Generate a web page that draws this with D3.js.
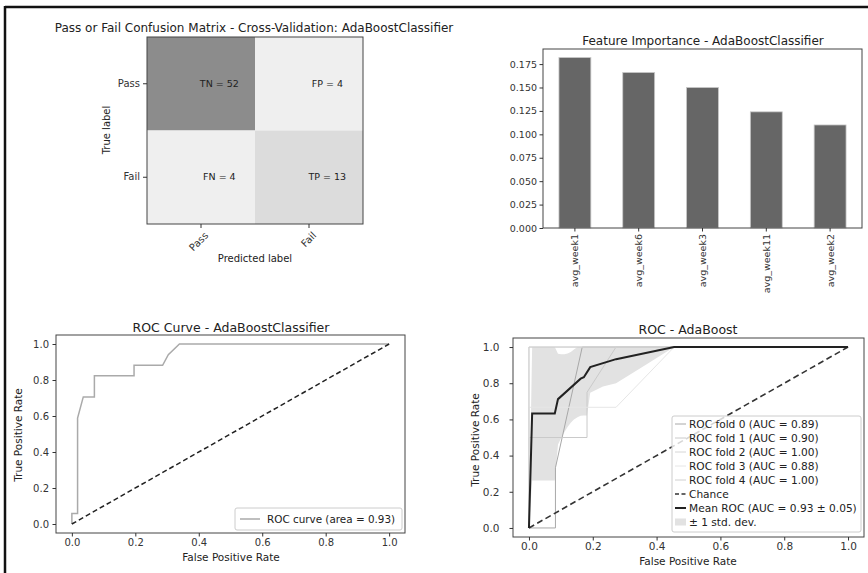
<!DOCTYPE html>
<html lang="en">
  <head>
    <meta charset="utf-8" />
    <script src="https://cdn.jsdelivr.net/npm/d3@7/dist/d3.min.js"></script>
    <title>AdaBoostClassifier</title>
    <style>
      body {
        margin: 0;
        background: #fff;
      }
      svg {
        display: block;
        font-family: "DejaVu Sans", sans-serif;
      }
      .tick text {
        fill: #333;
      }
      .tick line {
        stroke: #333;
      }
    </style>
  </head>
  <body>
    <div id="container"></div>

    <script>
      const width = 868;
      const height = 573;

      // confusion matrix
      const cmLabels = ["Pass", "Fail"];
      const cmNames = ["TN", "FP", "FN", "TP"];
      const cmCounts = [52, 4, 4, 13];

      // feature importance
      const features = ["avg_week1", "avg_week6", "avg_week3", "avg_week11", "avg_week2"];
      const importance = [0.182, 0.166, 0.15, 0.124, 0.11];
      const impTicks = [0, 0.025, 0.05, 0.075, 0.1, 0.125, 0.15, 0.175];

      // single ROC curve
      const rocFpr = [0, 0, 0.018, 0.018, 0.036, 0.071, 0.071, 0.196, 0.196, 0.286, 0.304, 0.339, 1];
      const rocTpr = [0, 0.059, 0.059, 0.588, 0.706, 0.706, 0.824, 0.824, 0.882, 0.882, 0.941, 1, 1];
      const rocAuc = 0.93;

      // cross-validation folds
      const foldAuc = [0.89, 0.9, 1.0, 0.88, 1.0];
      const foldFpr = [
        [0, 0.083, 0.083, 0.167, 1],
        [0, 0, 0.182, 0.182, 0.273, 1],
        [0, 0, 1],
        [0, 0, 0.273, 0.455, 1],
        [0, 0, 1],
      ];
      const foldTpr = [
        [0, 0, 0.333, 1, 1],
        [0, 0.5, 0.5, 0.75, 1, 1],
        [0, 1, 1],
        [0, 0.667, 0.667, 1, 1],
        [0, 1, 1],
      ];
      const meanFpr = [0, 0.01, 0.081, 0.091, 0.162, 0.172, 0.192, 0.273, 0.455, 1];
      const meanTpr = [0, 0.633, 0.633, 0.712, 0.825, 0.833, 0.889, 0.933, 1, 1];
      const meanAuc = 0.93;
      const meanStd = 0.05;
      const bandFpr = [0, 0.01, 0.081, 0.091, 0.101, 0.111, 0.121, 0.131, 0.141, 0.152, 0.162, 0.172, 0.182, 0.192, 0.232, 0.273, 0.364, 0.455, 1];
      const bandUpper = [0, 1, 1, 0.963, 0.96, 0.96, 0.964, 0.973, 0.986, 1, 1, 1, 1, 1, 1, 1, 1, 1, 1];
      const bandLower = [0, 0.262, 0.262, 0.462, 0.497, 0.529, 0.558, 0.581, 0.599, 0.612, 0.62, 0.622, 0.622, 0.748, 0.782, 0.8, 0.9, 1, 1];
      const rateTicks = [0, 0.2, 0.4, 0.6, 0.8, 1.0];

      const svg = d3.select("#container").append("svg").attr("width", width).attr("height", height);
      svg.append("rect").attr("width", width).attr("height", height).attr("fill", "#fff");

      // page border
      svg.append("line").attr("x1", 5).attr("x2", width).attr("y1", 7).attr("y2", 7).attr("stroke", "#111").attr("stroke-width", 2.5);
      svg.append("line").attr("x1", 5).attr("x2", 5).attr("y1", 6).attr("y2", height).attr("stroke", "#111").attr("stroke-width", 2.5);

      function frame(x0, y0, x1, y1) {
        svg
          .append("rect")
          .attr("x", x0)
          .attr("y", y0)
          .attr("width", x1 - x0)
          .attr("height", y1 - y0)
          .attr("fill", "none")
          .attr("stroke", "#444")
          .attr("stroke-width", 1);
      }

      function styleAxis(g, size) {
        g.select(".domain").remove();
        g.selectAll("text").attr("font-size", size).attr("font-family", "DejaVu Sans");
        return g;
      }

      function label(x, y, txt, size, rotate) {
        const t = svg
          .append("text")
          .attr("x", x)
          .attr("y", y)
          .attr("text-anchor", "middle")
          .attr("font-size", size)
          .attr("fill", "#222")
          .text(txt);
        if (rotate) t.attr("transform", `rotate(-90,${x},${y})`);
        return t;
      }

      // ---------- confusion matrix ----------
      const cx = d3.scaleBand().domain(cmLabels).range([147, 363]);
      const cy = d3.scaleBand().domain(cmLabels).range([37, 224]);
      const cmColor = d3.scaleLinear().domain([0, d3.max(cmCounts)]).range(["#f7f7f7", "#8c8c8c"]);
      const cells = cmNames.map((n, i) => ({ name: n, count: cmCounts[i], row: cmLabels[Math.floor(i / 2)], col: cmLabels[i % 2] }));

      svg
        .append("g")
        .selectAll("rect")
        .data(cells)
        .join("rect")
        .attr("x", (d) => cx(d.col))
        .attr("y", (d) => cy(d.row))
        .attr("width", cx.bandwidth())
        .attr("height", cy.bandwidth())
        .attr("fill", (d) => cmColor(d.count));

      svg
        .append("g")
        .selectAll("text")
        .data(cells)
        .join("text")
        .attr("x", (d) => cx(d.col) + cx.bandwidth() * 0.67)
        .attr("y", (d) => cy(d.row) + cy.bandwidth() / 2)
        .attr("dy", "0.3em")
        .attr("text-anchor", "middle")
        .attr("font-size", 9.5)
        .attr("fill", "#222")
        .text((d) => `${d.name} = ${d.count}`);
      frame(147, 37, 363, 224);

      svg.append("g").attr("transform", "translate(147,0)").call(d3.axisLeft(cy).tickSize(4).tickPadding(3)).call(styleAxis, 10);
      svg
        .append("g")
        .attr("transform", "translate(0,224)")
        .call(d3.axisBottom(cx).tickSize(4))
        .call(styleAxis, 10)
        .selectAll("text")
        .attr("y", 0)
        .attr("dy", 0)
        .attr("text-anchor", "end")
        .attr("transform", "translate(8,12) rotate(-45)");
      label(254, 32, "Pass or Fail Confusion Matrix - Cross-Validation: AdaBoostClassifier", 12);
      label(110, 130, "True label", 10, true);
      label(255, 262, "Predicted label", 10);

      // ---------- feature importance ----------
      const fx = d3.scaleBand().domain(features).range([543, 862]).paddingInner(0.5).paddingOuter(0.25);
      const fy = d3.scaleLinear().domain([0, d3.max(importance) * 1.05]).range([228, 49]);

      svg
        .append("g")
        .selectAll("rect")
        .data(features)
        .join("rect")
        .attr("x", (d) => fx(d))
        .attr("y", (d, i) => fy(importance[i]))
        .attr("width", fx.bandwidth())
        .attr("height", (d, i) => fy(0) - fy(importance[i]))
        .attr("fill", "#666")
        .attr("stroke", "#c8c8c8")
        .attr("stroke-width", 0.8);
      frame(543, 49, 862, 228);

      svg
        .append("g")
        .attr("transform", "translate(543,0)")
        .call(d3.axisLeft(fy).tickValues(impTicks).tickFormat(d3.format(".3f")).tickSize(3.5).tickPadding(2.5))
        .call(styleAxis, 9.5);
      svg
        .append("g")
        .attr("transform", "translate(0,228)")
        .call(d3.axisBottom(fx).tickSize(3.5))
        .call(styleAxis, 9.5)
        .selectAll("text")
        .attr("y", 0)
        .attr("dy", 0)
        .attr("text-anchor", "end")
        .attr("transform", "translate(3.5,6) rotate(-90)");
      label(703, 45, "Feature Importance - AdaBoostClassifier", 12);

      // ---------- ROC curve ----------
      const rx = d3.scaleLinear().domain([-0.05, 1.05]).range([56, 405]);
      const ry = d3.scaleLinear().domain([-0.05, 1.05]).range([533, 335]);
      const rocLine = d3
        .line()
        .x((d) => rx(d[0]))
        .y((d) => ry(d[1]));

      svg
        .append("path")
        .attr("d", rocLine(d3.zip(rocFpr, rocTpr)))
        .attr("fill", "none")
        .attr("stroke", "#aaa")
        .attr("stroke-width", 1.5);
      svg
        .append("path")
        .attr("d", rocLine([[0, 0], [1, 1]]))
        .attr("fill", "none")
        .attr("stroke", "#222")
        .attr("stroke-width", 1.5)
        .attr("stroke-dasharray", "5,3");
      frame(56, 335, 405, 533);

      svg
        .append("g")
        .attr("transform", "translate(56,0)")
        .call(d3.axisLeft(ry).tickValues(rateTicks).tickFormat(d3.format(".1f")).tickSize(3.5).tickPadding(3.5))
        .call(styleAxis, 10);
      svg
        .append("g")
        .attr("transform", "translate(0,533)")
        .call(d3.axisBottom(rx).tickValues(rateTicks).tickFormat(d3.format(".1f")).tickSize(3.5).tickPadding(2.5))
        .call(styleAxis, 10);

      svg.append("rect").attr("x", 235).attr("y", 508).attr("width", 167).attr("height", 22).attr("rx", 2).attr("fill", "#fff").attr("stroke", "#ccc");
      svg.append("line").attr("x1", 240).attr("x2", 260).attr("y1", 519).attr("y2", 519).attr("stroke", "#aaa").attr("stroke-width", 1.5);
      svg.append("text").attr("x", 267).attr("y", 519).attr("dy", "0.35em").attr("font-size", 10.4).attr("fill", "#222").text(`ROC curve (area = ${rocAuc.toFixed(2)})`);

      label(231, 332, "ROC Curve - AdaBoostClassifier", 12.5);
      label(22, 435, "True Positive Rate", 10.5, true);
      label(231, 561, "False Positive Rate", 10.5);

      // ---------- ROC cross-validation ----------
      const vx = d3.scaleLinear().domain([-0.05, 1.05]).range([513, 864]);
      const vy = d3.scaleLinear().domain([-0.05, 1.05]).range([537, 338]);
      const cvLine = d3
        .line()
        .x((d) => vx(d[0]))
        .y((d) => vy(d[1]));
      const band = d3
        .area()
        .x((d) => vx(d[0]))
        .y0((d) => vy(d[1]))
        .y1((d) => vy(d[2]));
      const foldColors = ["#a8a8a8", "#cacaca", "#d6d6d6", "#e6e6e6", "#d0d0d0"];

      svg
        .append("path")
        .attr("d", band(d3.zip(bandFpr, bandLower, bandUpper)))
        .attr("fill", "#e2e2e2");

      svg
        .append("g")
        .selectAll("path")
        .data(foldAuc)
        .join("path")
        .attr("d", (d, i) => cvLine(d3.zip(foldFpr[i], foldTpr[i])))
        .attr("fill", "none")
        .attr("stroke", (d, i) => foldColors[i])
        .attr("stroke-width", 1);

      svg
        .append("path")
        .attr("d", cvLine([[0, 0], [1, 1]]))
        .attr("fill", "none")
        .attr("stroke", "#333")
        .attr("stroke-width", 1.6)
        .attr("stroke-dasharray", "6,3.5");
      svg
        .append("path")
        .attr("d", cvLine(d3.zip(meanFpr, meanTpr)))
        .attr("fill", "none")
        .attr("stroke", "#222")
        .attr("stroke-width", 2);
      frame(513, 338, 864, 537);

      svg
        .append("g")
        .attr("transform", "translate(513,0)")
        .call(d3.axisLeft(vy).tickValues(rateTicks).tickFormat(d3.format(".1f")).tickSize(3.5).tickPadding(10))
        .call(styleAxis, 10.5);
      svg
        .append("g")
        .attr("transform", "translate(0,537)")
        .call(d3.axisBottom(vx).tickValues(rateTicks).tickFormat(d3.format(".1f")).tickSize(3.5).tickPadding(2))
        .call(styleAxis, 10.5);

      // legend
      const legendItems = foldAuc
        .map((a, i) => ({ text: `ROC fold ${i} (AUC = ${a.toFixed(2)})`, kind: "line", color: foldColors[i], w: 1 }))
        .concat([
          { text: "Chance", kind: "line", color: "#333", w: 1.6, dash: "4,2.5" },
          { text: `Mean ROC (AUC = ${meanAuc.toFixed(2)} \u00b1 ${meanStd.toFixed(2)})`, kind: "line", color: "#222", w: 2 },
          { text: "\u00b1 1 std. dev.", kind: "patch", color: "#e2e2e2" },
        ]);
      const leg = svg.append("g");
      leg.append("rect").attr("x", 672).attr("y", 416).attr("width", 189).attr("height", 116).attr("rx", 2).attr("fill", "#fff").attr("fill-opacity", 0.8).attr("stroke", "#ccc");
      const rows = leg
        .selectAll("g")
        .data(legendItems)
        .join("g")
        .attr("transform", (d, i) => `translate(0,${424 + i * 14})`);
      rows
        .filter((d) => d.kind === "line")
        .append("line")
        .attr("x1", 675)
        .attr("x2", 686)
        .attr("stroke", (d) => d.color)
        .attr("stroke-width", (d) => d.w)
        .attr("stroke-dasharray", (d) => d.dash || null);
      rows
        .filter((d) => d.kind === "patch")
        .append("rect")
        .attr("x", 675)
        .attr("y", -3.5)
        .attr("width", 11)
        .attr("height", 7)
        .attr("fill", (d) => d.color);
      rows
        .append("text")
        .attr("x", 689)
        .attr("dy", "0.35em")
        .attr("font-size", 10.6)
        .attr("fill", "#222")
        .text((d) => d.text);

      label(688, 334, "ROC - AdaBoost", 12.5);
      label(479, 440, "True Positive Rate", 10.5, true);
      label(688, 565, "False Positive Rate", 10.5);
    </script>
  </body>
</html>
